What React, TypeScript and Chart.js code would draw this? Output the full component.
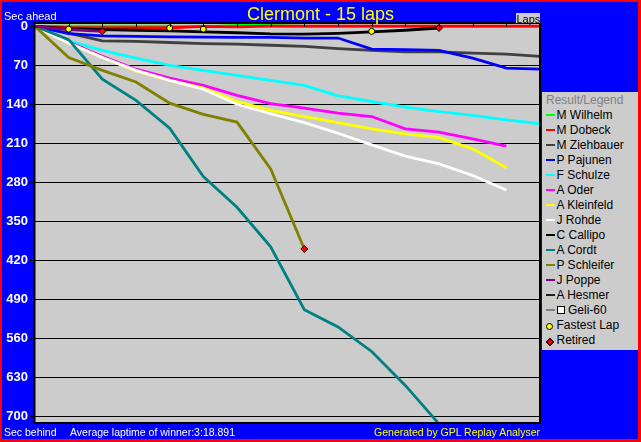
import React, { useEffect, useRef } from "react";
import { Chart, registerables } from "chart.js";

Chart.register(...registerables);

// ---------------- data ----------------
const laps = [0, 1, 2, 3, 4, 5, 6, 7, 8, 9, 10, 11, 12, 13, 14, 15];
const yTickValues = [0, 70, 140, 210, 280, 350, 420, 490, 560, 630, 700];

const driverNames = [
  "M Wilhelm",
  "M Dobeck",
  "M Ziehbauer",
  "P Pajunen",
  "F Schulze",
  "A Oder",
  "A Kleinfeld",
  "J Rohde",
  "C Callipo",
  "A Cordt",
  "P Schleifer",
  "J Poppe",
  "A Hesmer",
  "Geli-60",
];

// seconds behind the reference, one value per lap (starting at lap 0)
const wilhelm = [0, -0.5, -0.5, -0.5, -0.5, 1, -1.5, -1.5, 0, 0, 0, 0, 0, 0, 0, 0];
const dobeck = [0, 2, 2.5, 2.5, 2.5, 0, 1, -0.5, -0.5, -0.5, -0.5, -0.5, -0.5, -0.5, -0.5, -0.5];
const ziehbauer = [0, 12, 26, 27, 29, 31, 32, 34, 36, 40, 43, 46, 46, 48, 50, 54];
const pajunen = [0, 13, 17, 18, 19, 19.5, 20, 20, 21, 21, 41, 42, 43, 57, 75, 77];
const schulze = [0, 26, 43, 57, 70, 79, 88, 97, 106, 125, 135, 145, 153, 160, 168, 175];
const oder = [0, 28, 54, 77, 93, 106, 124, 139, 147, 156, 162, 184, 190, 202, 215];
const kleinfeld = [0, 30, 56, 80, 97, 111, 135, 151, 162, 173, 184, 193, 200, 220, 254];
const rohde = [0, 30, 56, 79, 97, 113, 140, 157, 173, 192, 213, 233, 247, 268, 294];
const callipo = [0, 4, 6, 7, 8, 10, 11.5, 13.5, 14, 12.5, 10, 7, 3];
const cordt = [0, 24, 95, 133, 183, 270, 325, 396, 509, 540, 584, 645, 714];
const schleifer = [0, 56, 79, 100, 138, 158, 172, 256, 400];
const poppe = [0, 6, 9];
const hesmer: number[] = [];
const geli60: number[] = [];

const seriesValues = [
  wilhelm, dobeck, ziehbauer, pajunen, schulze, oder, kleinfeld,
  rohde, callipo, cordt, schleifer, poppe, hesmer, geli60,
];

const fastestLapLaps = [1, 4, 5, 10];
const fastestLapSecs = [5, 3, 5, 9];
const retiredLaps = [2, 8, 12];
const retiredSecs = [9, 400, 3];

// ---------------- styles ----------------
const driverColors = [
  "#00ff00", "#ff0000", "#404040", "#0000ff", "#00ffff", "#ff00ff", "#ffff00",
  "#ffffff", "#000000", "#008080", "#808000", "#800080", "#202020", "#808080",
];
const PLOT_BG = "#cccccc";
const FONT = "'Liberation Sans', Arial, sans-serif";

const framePlugin = {
  id: "frame",
  beforeDraw(chart: any) {
    const { ctx, chartArea: a } = chart;
    ctx.save();
    ctx.fillStyle = PLOT_BG;
    ctx.fillRect(a.left, a.top, a.right - a.left, a.bottom - a.top);
    ctx.restore();
  },
  afterDraw(chart: any) {
    const { ctx, chartArea: a } = chart;
    const xs = chart.scales.x;
    ctx.save();
    ctx.strokeStyle = "#000";
    ctx.lineWidth = 1;
    ctx.beginPath();
    laps.slice(1, -1).forEach((l) => {
      const px = Math.round(xs.getPixelForValue(l)) + 0.5;
      ctx.moveTo(px, a.top);
      ctx.lineTo(px, a.top + 4);
    });
    ctx.stroke();
    ctx.lineWidth = 2;
    ctx.strokeRect(a.left - 0.5, a.top, a.right - a.left + 0.5, a.bottom - a.top);
    ctx.restore();
  },
};

function LegendMarker({ kind, color }: { kind: string; color: string }) {
  if (kind === "circle") {
    return (
      <div
        style={{
          position: "absolute", left: 4, top: -1, width: 5, height: 5,
          borderRadius: "50%", background: color, border: "1px solid #000",
        }}
      />
    );
  }
  if (kind === "diamond") {
    return (
      <div
        style={{
          position: "absolute", left: 5, top: -0.5, width: 4, height: 4,
          transform: "rotate(45deg)", background: color, border: "1px solid #000",
        }}
      />
    );
  }
  return (
    <div style={{ position: "absolute", left: 4, top: 0, width: 9, height: 2, background: color }} />
  );
}

export default function App() {
  const ref = useRef<HTMLCanvasElement>(null);

  useEffect(() => {
    const canvas = ref.current!;
    const datasets: any[] = driverNames.map((name, i) => ({
      type: "line",
      label: name,
      data: seriesValues[i].map((v, k) => ({ x: laps[k], y: v })),
      borderColor: driverColors[i],
      backgroundColor: driverColors[i],
      borderWidth: 2.8,
      pointRadius: 0,
      tension: 0,
      fill: false,
      order: 100 - i,
    }));
    datasets.push({
      type: "scatter",
      label: "Fastest Lap",
      data: fastestLapLaps.map((l, k) => ({ x: l, y: fastestLapSecs[k] })),
      pointStyle: "circle",
      pointRadius: 3,
      backgroundColor: "#ffff00",
      borderColor: "#000000",
      borderWidth: 1,
      showLine: false,
      order: 1,
    });
    datasets.push({
      type: "scatter",
      label: "Retired",
      data: retiredLaps.map((l, k) => ({ x: l, y: retiredSecs[k] })),
      pointStyle: "rectRot",
      pointRadius: 3.5,
      backgroundColor: "#ff0000",
      borderColor: "#000000",
      borderWidth: 1,
      showLine: false,
      order: 0,
    });

    const chart = new Chart(canvas, {
      type: "line",
      data: { datasets },
      options: {
        animation: false,
        responsive: false,
        maintainAspectRatio: false,
        devicePixelRatio: 1,
        events: [],
        layout: { padding: { left: 0, top: 23, right: 101, bottom: 19 } },
        plugins: {
          legend: { display: false },
          tooltip: { enabled: false },
          title: { display: false },
        },
        scales: {
          x: { type: "linear", min: 0, max: 15, display: false },
          y: {
            type: "linear",
            reverse: true,
            min: -6,
            max: 712.5,
            afterBuildTicks: (s: any) => {
              s.ticks = yTickValues.map((v) => ({ value: v }));
            },
            afterFit: (s: any) => {
              s.width = 35;
            },
            grid: { color: "#000", lineWidth: 1, tickLength: 5, tickColor: "#000", drawTicks: true },
            border: { display: false },
            ticks: {
              color: "#ffffff",
              font: { family: FONT, size: 13, weight: "bold" },
              padding: 2,
              autoSkip: false,
            },
          },
        },
      } as any,
      plugins: [framePlugin],
    });
    return () => chart.destroy();
  }, []);

  const legendItems = [
    ...driverNames.map((n, i) => ({ label: n, kind: "line", color: driverColors[i] })),
    { label: "Fastest Lap", kind: "circle", color: "#ffff00" },
    { label: "Retired", kind: "diamond", color: "#ff0000" },
  ];

  const txt = (extra: any) => ({
    position: "absolute" as const,
    fontFamily: FONT,
    whiteSpace: "nowrap" as const,
    ...extra,
  });

  return (
    <div style={{ position: "absolute", left: 0, top: 0, width: 641, height: 442, background: "#ff0000", overflow: "hidden" }}>
      <div style={{ position: "absolute", left: 2, top: 2, width: 636, height: 437, background: "#0000ff" }} />
      <canvas ref={ref} width={641} height={442} style={{ position: "absolute", left: 0, top: 0, width: 641, height: 442 }} />
      <div style={txt({ left: 0, width: 641, top: 4.8, textAlign: "center", fontSize: 18, lineHeight: "18px", color: "#ffff00" })}>
        Clermont - 15 laps
      </div>
      <div style={txt({ left: 4, top: 10.7, fontSize: 11, lineHeight: "11px", color: "#ffffff" })}>Sec ahead</div>
      <div style={{ position: "absolute", left: 516, top: 13, width: 24, height: 10, background: PLOT_BG }} />
      <div style={txt({ left: 516.5, top: 14, fontSize: 11, lineHeight: "11px", color: "#000000" })}>Laps</div>
      <div style={txt({ left: 4, top: 427, fontSize: 10.5, lineHeight: "11px", color: "#ffffff" })}>Sec behind</div>
      <div style={txt({ left: 70, top: 427, fontSize: 10.5, lineHeight: "11px", color: "#ffffff" })}>
        Average laptime of winner:3:18.891
      </div>
      <div style={txt({ right: 101, top: 427, fontSize: 10.5, lineHeight: "11px", color: "#ffff00" })}>
        Generated by GPL Replay Analyser
      </div>
      <div style={{ position: "absolute", left: 542, top: 92, width: 96, height: 258, background: PLOT_BG }}>
        <div style={txt({ left: 4, top: 1.8, fontSize: 12, lineHeight: "12px", color: "#808080" })}>Result/Legend</div>
        {legendItems.map((it, i) => (
          <div key={it.label} style={{ position: "absolute", left: 0, top: 22 + 15 * i, width: 96, height: 2 }}>
            <LegendMarker kind={it.kind} color={it.color} />
            {it.label === "Geli-60" ? (
              <>
                <div style={{ position: "absolute", left: 15, top: -3, width: 6, height: 6, background: "#ffffff", border: "1px solid #000" }} />
                <div style={txt({ left: 26, top: -4.8, fontSize: 12, lineHeight: "12px", color: "#000" })}>{it.label}</div>
              </>
            ) : (
              <div style={txt({ left: 14.5, top: -4.8, fontSize: 12, lineHeight: "12px", color: "#000" })}>{it.label}</div>
            )}
          </div>
        ))}
      </div>
    </div>
  );
}
